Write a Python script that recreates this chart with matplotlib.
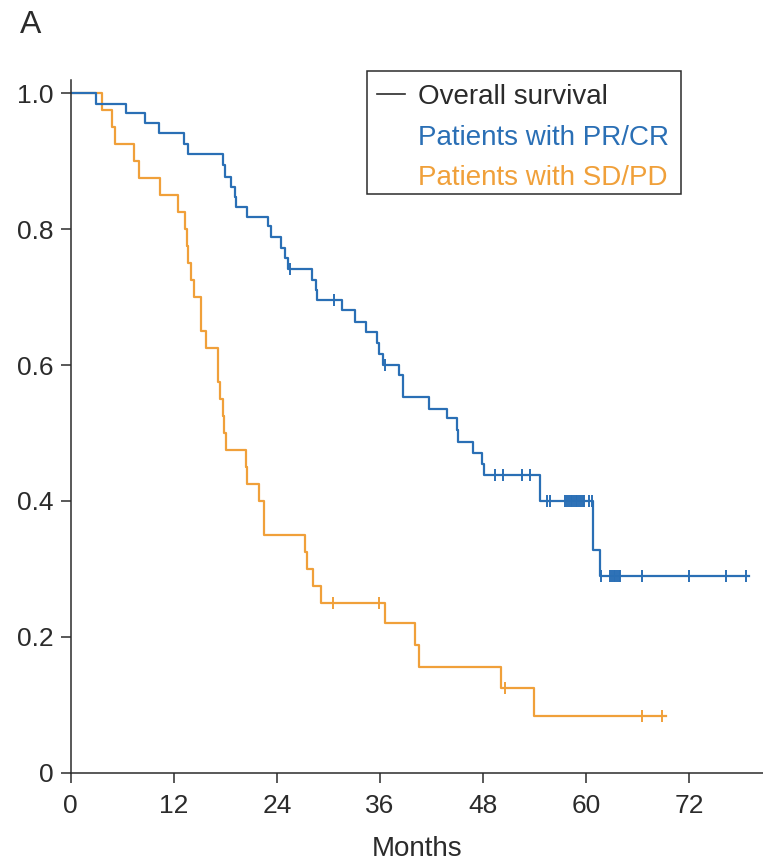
import matplotlib.pyplot as plt
from matplotlib.patches import Rectangle

plt.rcParams["font.family"] = ["Liberation Sans", "DejaVu Sans"]

# =========================
# DATA
# =========================

# patients with PR/CR: event times (months) and survival after each event
pr_times = [0, 3.0, 6.4, 8.6, 10.3, 13.2, 13.7, 17.75, 17.95, 18.7, 19.1, 19.2,
            20.5, 23.0, 23.3, 24.5, 24.9, 25.3, 28.1, 28.6, 28.7, 31.6, 33.1,
            34.4, 35.7, 35.9, 36.3, 38.2, 38.7, 41.7, 43.8, 45.0, 45.1, 46.8,
            47.9, 48.1, 54.6, 60.8, 61.6, 79.0]
pr_surv = [1.0, 0.985, 0.971, 0.956, 0.941, 0.926, 0.911, 0.894, 0.877, 0.862,
           0.848, 0.833, 0.818, 0.804, 0.788, 0.772, 0.757, 0.742, 0.725, 0.710,
           0.696, 0.681, 0.664, 0.649, 0.632, 0.616, 0.600, 0.585, 0.553, 0.536,
           0.522, 0.504, 0.487, 0.470, 0.455, 0.438, 0.400, 0.328, 0.290, 0.290]
pr_censor = [25.5, 30.7, 36.6, 49.4, 50.3, 52.5, 53.5, 55.4, 55.8,
             57.6, 57.8, 58.0, 58.2, 58.4, 58.6, 58.8, 59.0, 59.2, 59.4, 59.6, 59.8,
             60.3, 60.7, 61.7,
             62.8, 63.0, 63.2, 63.4, 63.6, 63.8, 64.0,
             66.5, 72.0, 76.3, 78.6]

# patients with SD/PD
sd_times = [0, 3.6, 4.8, 5.2, 7.4, 8.0, 10.4, 12.5, 13.3, 13.5, 13.7, 14.0,
            14.4, 15.2, 15.8, 17.2, 17.4, 17.7, 17.9, 18.1, 20.4, 20.5, 21.9,
            22.5, 27.3, 27.5, 28.2, 29.1, 36.6, 40.05, 40.6, 50.1, 53.9, 69.3]
sd_surv = [1.0, 0.975, 0.95, 0.925, 0.90, 0.875, 0.85, 0.825, 0.80, 0.775,
           0.75, 0.725, 0.70, 0.65, 0.625, 0.575, 0.55, 0.525, 0.50, 0.475,
           0.45, 0.425, 0.40, 0.35, 0.325, 0.30, 0.275, 0.25, 0.22, 0.188,
           0.156, 0.125, 0.083, 0.083]
sd_censor = [30.5, 35.9, 50.6, 66.5, 68.8]

x_ticks = [0, 12, 24, 36, 48, 60, 72]
y_ticks = [0, 0.2, 0.4, 0.6, 0.8, 1.0]
y_labels = ["0", "0.2", "0.4", "0.6", "0.8", "1.0"]

legend_lines = ["Overall survival", "Patients with PR/CR", "Patients with SD/PD"]

BLUE = "#2a6fb5"
ORANGE = "#f0a03a"
DARK = "#2b2b2b"


def surv_at(times, surv, t):
    # step-function value at time t
    val = surv[0]
    for ti, si in zip(times, surv):
        if ti <= t:
            val = si
    return val


# =========================
# PLOT
# =========================

fig = plt.figure(figsize=(7.63, 8.65), dpi=100)
ax = fig.add_axes([0.0927, 0.1067, 0.9073, 0.8008])

ax.step(sd_times, sd_surv, where="post", color=ORANGE, lw=1.6)
ax.step(pr_times, pr_surv, where="post", color=BLUE, lw=1.6)

ax.plot(sd_censor, [surv_at(sd_times, sd_surv, t) for t in sd_censor],
        ls="none", marker="|", ms=8, mew=1.4, color=ORANGE)
ax.plot(pr_censor, [surv_at(pr_times, pr_surv, t) for t in pr_censor],
        ls="none", marker="|", ms=8, mew=1.4, color=BLUE)

ax.set_xlim(0, 80.6)
ax.set_ylim(0, 1.0196)
ax.set_xticks(x_ticks)
ax.set_yticks(y_ticks)
ax.set_yticklabels(y_labels)

for side in ["top", "right"]:
    ax.spines[side].set_visible(False)
for side in ["left", "bottom"]:
    ax.spines[side].set_linewidth(1.1)
    ax.spines[side].set_color(DARK)

ax.tick_params(axis="both", direction="out", length=7.5, width=1.1,
               color=DARK, labelsize=19, labelcolor=DARK)
ax.tick_params(axis="x", pad=8)
ax.tick_params(axis="y", pad=5)

ax.set_xlabel("Months", fontsize=20, color=DARK, labelpad=13)

# legend box
fig.patches.append(Rectangle((0.4814, 0.7757), 0.4111, 0.1426,
                             transform=fig.transFigure, fill=False,
                             edgecolor=DARK, lw=1.1))
fig.lines.append(plt.Line2D([0.4937, 0.5308], [0.8908, 0.8908],
                            transform=fig.transFigure, color=DARK, lw=1.2))
for txt, y, c in zip(legend_lines, [0.8798, 0.8324, 0.7861], [DARK, BLUE, ORANGE]):
    fig.text(0.5482, y, txt, fontsize=20, color=c, va="baseline")

fig.text(0.026, 1 - 33.3 / 865, "A", fontsize=23, color=DARK, va="baseline")

plt.savefig("out.png", dpi=100)
